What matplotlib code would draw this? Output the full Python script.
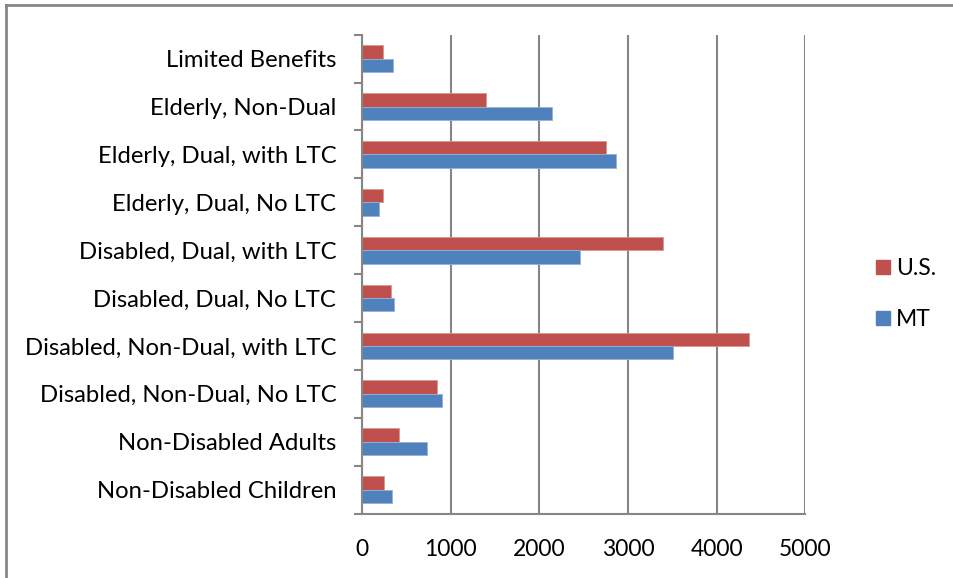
import matplotlib.pyplot as plt
import matplotlib.lines as mlines
import numpy as np

# Spending per enrollee by eligibility group
categories = [
    "Non-Disabled Children",
    "Non-Disabled Adults",
    "Disabled, Non-Dual, No LTC",
    "Disabled, Non-Dual, with LTC",
    "Disabled, Dual, No LTC",
    "Disabled, Dual, with LTC",
    "Elderly, Dual, No LTC",
    "Elderly, Dual, with LTC",
    "Elderly, Non-Dual",
    "Limited Benefits",
]
us_values = [248, 421, 842, 4366, 327, 3393, 240, 2751, 1394, 233]
mt_values = [335, 733, 898, 3503, 364, 2461, 195, 2864, 2146, 353]
x_ticks = [0, 1000, 2000, 3000, 4000, 5000]

red = "#C0504D"
blue = "#4F81BD"
grid_gray = "#868686"

plt.rcParams["font.family"] = ["Lato", "DejaVu Sans"]

fig = plt.figure(figsize=(9.54, 5.78), dpi=100)
ax = fig.add_axes([362 / 954, 1 - 513.5 / 578, 443.5 / 954, 478.8 / 578])

y = np.arange(len(categories))
h = 0.28
ax.barh(y + h / 2, us_values, height=h, color=red, edgecolor="#D99694",
        linewidth=0.6, label="U.S.", zorder=3)
ax.barh(y - h / 2, mt_values, height=h, color=blue, edgecolor="#95B3D7",
        linewidth=0.6, label="MT", zorder=3)

ax.set_xlim(0, 5000)
ax.set_ylim(-0.5, len(categories) - 0.5)
ax.set_xticks(x_ticks)
ax.set_xticklabels([str(t) for t in x_ticks], fontsize=16.5)
ax.set_yticks(y)
ax.set_yticklabels(categories, fontsize=17.2)
ax.tick_params(axis="y", length=0, pad=18.5)
ax.tick_params(axis="x", length=0, pad=18)

# category boundary ticks on the left and gridline ticks below
ax.set_yticks(np.arange(-0.5, len(categories), 1), minor=True)
ax.tick_params(axis="y", which="minor", length=6, width=1.5, color=grid_gray)
ax.set_xticks(x_ticks, minor=True)
ax.tick_params(axis="x", which="minor", length=6, width=1.5, color=grid_gray)

ax.grid(axis="x", color=grid_gray, linewidth=1.5, zorder=0)
for side in ["top", "right"]:
    ax.spines[side].set_visible(False)
for side in ["left", "bottom"]:
    ax.spines[side].set_color(grid_gray)
    ax.spines[side].set_linewidth(1.5)
    ax.spines[side].set_zorder(4)

handles = [
    mlines.Line2D([], [], marker="s", linestyle="none", markersize=10,
                  markerfacecolor=red, markeredgecolor=red, label="U.S."),
    mlines.Line2D([], [], marker="s", linestyle="none", markersize=10,
                  markerfacecolor=blue, markeredgecolor=blue, label="MT"),
]
fig.legend(handles=handles, loc="center left", bbox_to_anchor=(862 / 954, 1 - 294 / 578),
           frameon=False, fontsize=16.5, labelspacing=1.35, handletextpad=0.1,
           handlelength=1.0, borderaxespad=0)

# outer chart border
fig.add_artist(mlines.Line2D([6 / 954, 6 / 954], [0, 1 - 5 / 578],
                             transform=fig.transFigure, color=grid_gray, linewidth=2))
fig.add_artist(mlines.Line2D([6 / 954, 1], [1 - 5 / 578, 1 - 5 / 578],
                             transform=fig.transFigure, color=grid_gray, linewidth=2))

fig.savefig("out.png", dpi=100)
